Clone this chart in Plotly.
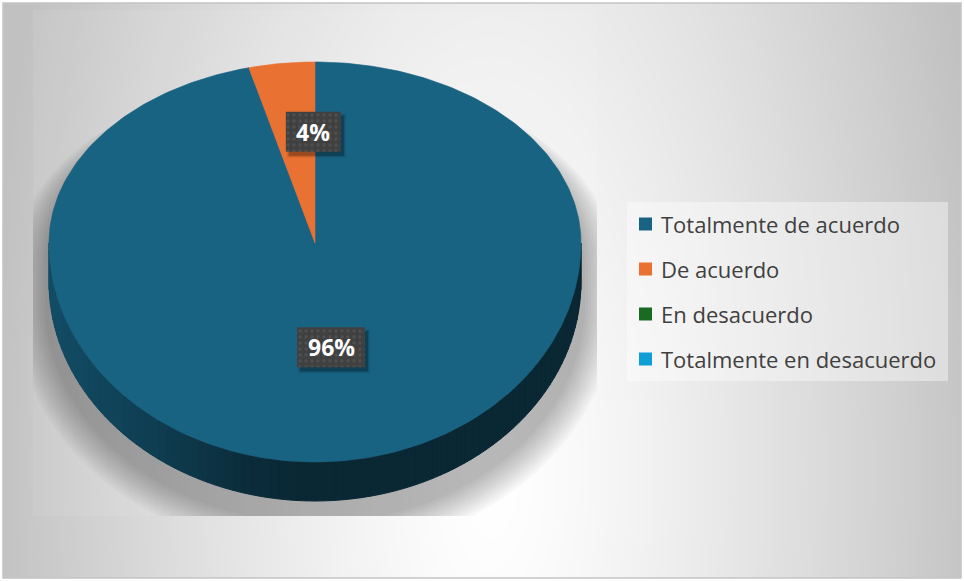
import numpy as np
import plotly.graph_objects as go

# ---------------- data ----------------
CATEGORIES = ["Totalmente de acuerdo", "De acuerdo", "En desacuerdo", "Totalmente en desacuerdo"]
PERCENTS = [96, 4, 0, 0]
SLICE_COLORS = ["#186282", "#E97132", "#196B24", "#0F9ED5"]

# ---------------- geometry / style (pixels) ----------------
W, H = 964, 581
CHART_BOX = (3, 3, 961, 578)        # x0, y0, x1, y1
PLOT_BOX = (33, 10, 597, 516)
CX, CY = 315.0, 243.0                # pie centre on the top face
RX, RY_BACK, RY_FRONT, DEPTH = 266.0, 181.0, 219.0, 39.0
# per-slice label placement: (fraction of radius, horizontal nudge)
LABEL_PLACE = [(0.48, 0), (0.62, 19), (0.5, 0), (0.5, 0)]
FONT = "Open Sans"
TEXT_COLOR = "#404040"


def rim(theta, rx=RX, ryb=RY_BACK, ryf=RY_FRONT, cx=CX, cy=CY):
    """Point on the tilted rim; theta in degrees, clockwise from 12 o'clock."""
    t = np.radians(np.asarray(theta, dtype=float))
    c = np.cos(t)
    x = cx + rx * np.sin(t)
    y = cy - np.where(c >= 0, ryb, ryf) * c
    return x, y


def hex_rgb(h):
    h = h.lstrip("#")
    return tuple(int(h[i:i + 2], 16) for i in (0, 2, 4))


def shade(h, f):
    r, g, b = hex_rgb(h)
    return f"rgb({round(r * f)},{round(g * f)},{round(b * f)})"


def silhouette(rx, ryb, ryf, cx, cy, depth, n=140):
    tu = np.linspace(-90, 90, n)
    xu, yu = rim(tu, rx, ryb, ryf, cx, cy)
    tl = np.linspace(90, 270, n)
    xl, yl = rim(tl, rx, ryb, ryf, cx, cy + depth)
    return np.concatenate([xu, xl, xu[:1]]), np.concatenate([yu, yl, yu[:1]])


def poly(fig, xs, ys, color, axis="2", line_w=0):
    fig.add_trace(go.Scatter(
        x=list(xs), y=list(ys), mode="lines", fill="toself", fillcolor=color,
        line=dict(width=line_w, color=color), hoverinfo="skip", showlegend=False,
        xaxis="x" + axis, yaxis="y" + axis))


fig = go.Figure()

# ---- chart-area radial gradient ----
gx = np.linspace(CHART_BOX[0], CHART_BOX[2], 121)
gy = np.linspace(CHART_BOX[1], CHART_BOX[3], 73)
GX, GY = np.meshgrid(gx, gy)
rad = np.sqrt(((GX - 490) / 500) ** 2 + ((GY - 470) / 1200) ** 2)
GZ = 255 - 62 * np.clip(rad, 0, 1) ** 1.3
fig.add_trace(go.Heatmap(
    x=gx, y=gy, z=GZ, zmin=190, zmax=255, zsmooth="best", showscale=False,
    colorscale=[[0, "rgb(190,190,190)"], [1, "rgb(255,255,255)"]],
    hoverinfo="skip", xaxis="x", yaxis="y"))

# ---- plot area tint ----
px0, py0, px1, py1 = PLOT_BOX
poly(fig, [px0, px1, px1, px0, px0], [py0, py0, py1, py1, py0], "rgba(255,255,255,0.07)")

# ---- soft drop shadow under the pie ----
for e in range(0, 33, 3):
    sx, sy = silhouette(RX + 4 + e, RY_BACK + 0.3 * e, RY_FRONT + e, CX, CY + 22, DEPTH)
    poly(fig, sx, sy, "rgba(0,0,0,0.026)")

# ---- slice angles ----
total = float(sum(PERCENTS))
starts, ends = [], []
acc = 0.0
for p in PERCENTS:
    starts.append(acc)
    acc += 360.0 * p / total
    ends.append(acc)

# ---- side wall (front half only), shaded left-to-right ----
shade_u = [-1.0, -0.62, -0.25, -0.05, 1.0]
shade_f = [0.78, 0.63, 0.45, 0.40, 0.40]
for p, a, b, col in zip(PERCENTS, starts, ends, SLICE_COLORS):
    if p <= 0:
        continue
    lo, hi = max(a, 90.0), min(b, 270.0)
    if hi <= lo:
        continue
    edges = np.linspace(lo, hi, int(np.ceil((hi - lo) / 2)) + 1)
    for t1, t2 in zip(edges[:-1], edges[1:]):
        x1, y1 = rim([t1, t2])
        xm = float(np.mean(x1))
        f = float(np.interp((xm - CX) / RX, shade_u, shade_f))
        xs = [x1[0], x1[1], x1[1], x1[0], x1[0]]
        ys = [y1[0], y1[1], y1[1] + DEPTH, y1[0] + DEPTH, y1[0]]
        poly(fig, xs, ys, shade(col, f), line_w=1)

# ---- top face slices ----
for p, a, b, col in zip(PERCENTS, starts, ends, SLICE_COLORS):
    if p <= 0:
        continue
    t = np.linspace(a, b, max(2, int((b - a) / 1.0) + 2))
    rx_, ry_ = rim(t)
    poly(fig, np.concatenate([[CX], rx_, [CX]]), np.concatenate([[CY], ry_, [CY]]), col, line_w=0.6)

# ---- data labels ----
annotations = []
for p, a, b, (frac, nudge) in zip(PERCENTS, starts, ends, LABEL_PLACE):
    if p <= 0:
        continue
    text = f"{p}%"
    mid = (a + b) / 2
    lx, ly = rim([mid], RX * frac, RY_BACK * frac, RY_FRONT * frac)
    lx, ly = float(lx[0]) + nudge, float(ly[0])
    w = sum(21 if ch == "%" else 13 for ch in text) + 21
    hh = 20
    # box shadow
    for k, op in ((0, 0.22), (1, 0.10), (2, 0.06)):
        bx0, bx1 = lx - w / 2 + 3 - k, lx + w / 2 + 3 + k
        by0, by1 = ly - hh + 4 - k, ly + hh + 4 + k
        poly(fig, [bx0, bx1, bx1, bx0, bx0], [by0, by0, by1, by1, by0], f"rgba(0,0,0,{op})")
    bx0, bx1 = lx - w / 2, lx + w / 2
    by0, by1 = ly - hh, ly + hh
    fig.add_trace(go.Scatter(
        x=[bx0, bx1, bx1, bx0, bx0], y=[by0, by0, by1, by1, by0], mode="lines",
        fill="toself", fillcolor="#404040",
        fillpattern=dict(shape=".", bgcolor="#404040", fgcolor="#5e5e5e", size=6, solidity=0.25),
        line=dict(width=0), hoverinfo="skip", showlegend=False, xaxis="x2", yaxis="y2"))
    annotations.append(dict(
        x=lx, y=ly, xref="x2", yref="y2", text=text, showarrow=False,
        xanchor="center", yanchor="middle",
        font=dict(family=FONT, size=23, color="white", weight="bold")))

# ---- legend (drawn in chart pixel coordinates) ----
shapes = []
LEG_BOX = (627, 202, 948, 381)
shapes.append(dict(type="rect", xref="x", yref="y", x0=LEG_BOX[0], y0=LEG_BOX[1],
                   x1=LEG_BOX[2], y1=LEG_BOX[3], fillcolor="rgba(255,255,255,0.4)",
                   line=dict(width=0), layer="above"))
LEG_X, LEG_Y0, LEG_STEP, SQ = 639, 224, 45, 13
for i, (name, col) in enumerate(zip(CATEGORIES, SLICE_COLORS)):
    yc = LEG_Y0 + i * LEG_STEP
    shapes.append(dict(type="rect", xref="x", yref="y", x0=LEG_X, x1=LEG_X + SQ,
                       y0=yc - SQ / 2, y1=yc + SQ / 2, fillcolor=col,
                       line=dict(width=0), layer="above"))
    annotations.append(dict(x=LEG_X + SQ + 7, y=yc, xref="x", yref="y", text=name,
                            showarrow=False, xanchor="left", yanchor="middle",
                            font=dict(family=FONT, size=22, color=TEXT_COLOR)))

# chart border
shapes.append(dict(type="rect", xref="paper", yref="paper",
                   x0=CHART_BOX[0] / W, x1=CHART_BOX[2] / W,
                   y0=1 - CHART_BOX[3] / H, y1=1 - CHART_BOX[1] / H,
                   line=dict(color="#c4c4c4", width=1.5), fillcolor="rgba(0,0,0,0)",
                   layer="above"))

hidden = dict(visible=False, showgrid=False, zeroline=False, fixedrange=True)
fig.update_layout(
    width=W, height=H, margin=dict(l=0, r=0, t=0, b=0),
    paper_bgcolor="white", plot_bgcolor="rgba(0,0,0,0)", showlegend=False,
    xaxis=dict(hidden, domain=[CHART_BOX[0] / W, CHART_BOX[2] / W],
               range=[CHART_BOX[0], CHART_BOX[2]]),
    yaxis=dict(hidden, domain=[1 - CHART_BOX[3] / H, 1 - CHART_BOX[1] / H],
               range=[CHART_BOX[3], CHART_BOX[1]]),
    xaxis2=dict(hidden, domain=[px0 / W, px1 / W], range=[px0, px1], anchor="y2"),
    yaxis2=dict(hidden, domain=[1 - py1 / H, 1 - py0 / H], range=[py1, py0], anchor="x2"),
    shapes=shapes, annotations=annotations,
)

fig.write_html("out.html", config=dict(displayModeBar=False, staticPlot=True))
